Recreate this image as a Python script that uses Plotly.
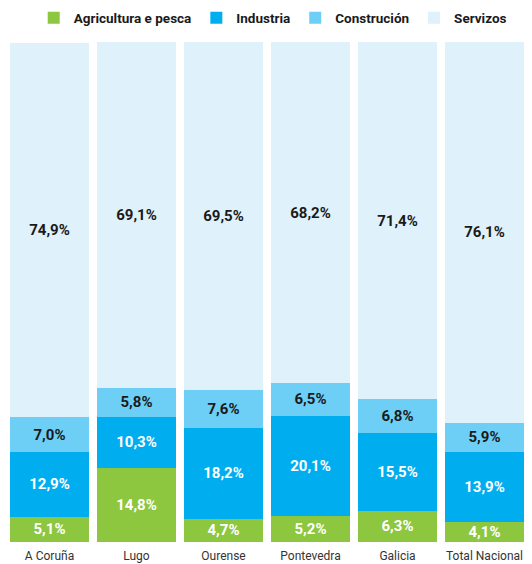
import plotly.graph_objects as go

categories = ["A Coruña", "Lugo", "Ourense", "Pontevedra", "Galicia", "Total Nacional"]
agricultura = [5.1, 14.8, 4.7, 5.2, 6.3, 4.1]
industria = [12.9, 10.3, 18.2, 20.1, 15.5, 13.9]
construcion = [7.0, 5.8, 7.6, 6.5, 6.8, 5.9]
servizos = [74.9, 69.1, 69.5, 68.2, 71.4, 76.1]

series = [
    ("Agricultura e pesca", agricultura, "#8dc63f", "white"),
    ("Industria", industria, "#00aeef", "white"),
    ("Construción", construcion, "#6dcff6", "#1a1a1a"),
    ("Servizos", servizos, "#dff1fb", "#1a1a1a"),
]

fig = go.Figure()
for name, vals, col, tcol in series:
    fig.add_trace(go.Bar(
        x=categories, y=vals, name=name,
        marker=dict(color=col, line=dict(width=0)),
        text=[f"{v:.1f}%".replace(".", ",") for v in vals],
        textposition="inside", insidetextanchor="middle", textangle=0,
        constraintext="none",
        textfont=dict(color=tcol, size=15, family="Roboto", weight="bold"),
        hoverinfo="skip",
    ))

# page body has an 8px margin; visible figure area is 516 px wide
W, H = 516, 556
P = 87.0          # pixels per category
C0 = 41.5         # centre of the first category, px from figure's left edge
fig.update_layout(
    barmode="stack", bargap=0.091,
    width=W, height=H,
    margin=dict(l=0, r=0, t=34, b=22, autoexpand=False),
    paper_bgcolor="white", plot_bgcolor="white",
    font=dict(family="Roboto", color="#1a1a1a"),
    legend=dict(orientation="h", x=0.513, xanchor="center",
                yref="container", y=1 - 10 / H, yanchor="middle",
                traceorder="normal", font=dict(size=13.5, weight="bold", color="#1a1a1a"),
                itemwidth=30, entrywidth=0),
    xaxis=dict(range=[-C0 / P, -C0 / P + W / P], showgrid=False, showline=False,
               ticks="", automargin=False, ticklabelstandoff=5,
               tickfont=dict(size=12, color="#333")),
    yaxis=dict(range=[0, 100], visible=False, automargin=False),
)
fig.write_html("out.html")
